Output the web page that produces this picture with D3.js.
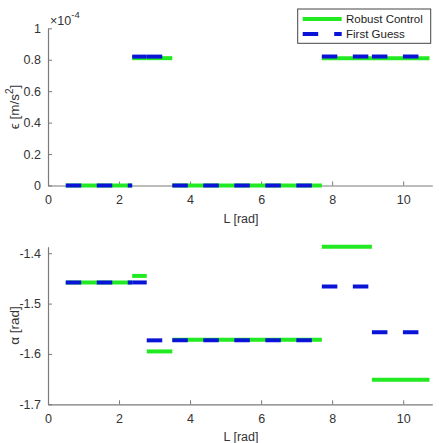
<!DOCTYPE html>
<html>
<head>
<meta charset="utf-8">
<script src="https://cdn.jsdelivr.net/npm/d3@7"></script>
<style>
  body { margin: 0; background: #fff; }
  svg { display: block; font-family: "Liberation Sans", Arial, sans-serif; }
</style>
</head>
<body>
<div id="container"></div>
<script>
// intervalos em L [rad]
var segInicio = [0.5, 2.37, 2.78, 3.5, 7.71, 9.12];
var segFim    = [2.37, 2.78, 3.5, 7.71, 9.12, 10.74];

// epsilon (x 1e-4)
var epsRobusto   = [0, 0.81, 0.81, 0, 0.81, 0.81];
var epsPrimeiro  = [0, 0.82, 0.82, 0, 0.82, 0.82];

// alpha [rad]
var alfaRobusto  = [-1.458, -1.445, -1.595, -1.572, -1.387, -1.651];
var alfaPrimeiro = [-1.458, -1.458, -1.573, -1.573, -1.466, -1.557];

var xTicks = [0, 2, 4, 6, 8, 10];
var epsTicks = [0, 0.2, 0.4, 0.6, 0.8, 1];
var alfaTicks = [-1.7, -1.6, -1.5, -1.4];

var legendas = ["Robust Control", "First Guess"];

var w = 439, h = 443;
var verde = "#22ea22", azul = "#0a14d6";
var corEixo = "#7a7a7a", corTexto = "#333";

var svg = d3.select("#container").append("svg")
    .attr("width", w).attr("height", h);

var x = d3.scaleLinear().domain([0, 10.82]).range([48, 432.3]);

function desenharPainel(y, ticks, fmt, robusto, primeiro, rotulo) {
    var g = svg.append("g");
    var linha = d3.line().x(function(d){ return x(d[0]); }).y(function(d){ return y(d[1]); });

    // eixo x
    var ax = g.append("g").attr("transform", "translate(0," + y.range()[0] + ")")
        .call(d3.axisBottom(x).tickValues(xTicks).tickSizeInner(-4).tickSizeOuter(0).tickPadding(10));
    // eixo y
    var ay = g.append("g").attr("transform", "translate(" + x.range()[0] + ",0)")
        .call(d3.axisLeft(y).tickValues(ticks).tickFormat(fmt).tickSizeInner(-4).tickSizeOuter(0).tickPadding(7));

    [ax, ay].forEach(function(a){
        a.select(".domain").attr("stroke", corEixo).attr("stroke-width", 1.2);
        a.selectAll(".tick line").attr("stroke", corEixo);
        a.selectAll(".tick text").attr("fill", corTexto).style("font-size", "12.5px");
    });

    // linhas
    segInicio.forEach(function(s, i){
        g.append("path").attr("d", linha([[s, robusto[i]], [segFim[i], robusto[i]]]))
            .attr("stroke", verde).attr("stroke-width", 4).attr("fill", "none");
    });
    segInicio.forEach(function(s, i){
        g.append("path").attr("d", linha([[s, primeiro[i]], [segFim[i], primeiro[i]]]))
            .attr("stroke", azul).attr("stroke-width", 4).attr("fill", "none")
            .attr("stroke-dasharray", "15.5,15.5");
    });

    g.append("text").attr("x", 241).attr("y", y.range()[0] + 37)
        .attr("text-anchor", "middle").attr("fill", corTexto).style("font-size", "12.5px")
        .text("L [rad]");

    var cy = (y.range()[0] + y.range()[1]) / 2;
    var t = g.append("text").attr("transform", "translate(19," + cy + ") rotate(-90)")
        .attr("text-anchor", "middle").attr("fill", corTexto).style("font-size", "13.5px");
    rotulo(t);
    return g;
}

// painel de cima
var yEps = d3.scaleLinear().domain([0, 1]).range([185.5, 28.3]);
desenharPainel(yEps, epsTicks, function(d){ return d3.format("")(+d.toFixed(1)); },
    epsRobusto, epsPrimeiro, function(t){
        t.append("tspan").text("\u03f5 [m/s");
        t.append("tspan").attr("dy", -6).style("font-size", "10px").text("2");
        t.append("tspan").attr("dy", 6).text("]");
    });

var exp = svg.append("text").attr("x", 50).attr("y", 25).attr("fill", corTexto).style("font-size", "12.5px");
exp.append("tspan").text("\u00d710");
exp.append("tspan").attr("dy", -7).style("font-size", "9.5px").text("-4");

// painel de baixo
var yAlfa = d3.scaleLinear().domain([-1.7, -1.387]).range([404.3, 246.7]);
desenharPainel(yAlfa, alfaTicks, function(d){ return d.toFixed(1); },
    alfaRobusto, alfaPrimeiro, function(t){
        t.text("\u03b1  [rad]");
    });

// legenda
var leg = svg.append("g");
leg.append("rect").attr("x", 297.7).attr("y", 9).attr("width", 133).attr("height", 34.3)
    .attr("fill", "#fff").attr("stroke", "#444").attr("stroke-width", 1);
legendas.forEach(function(nome, i){
    var ly = 19 + i * 15;
    leg.append("line").attr("x1", 302.7).attr("x2", 341.7).attr("y1", ly).attr("y2", ly)
        .attr("stroke", i == 0 ? verde : azul).attr("stroke-width", 4)
        .attr("stroke-dasharray", i == 0 ? null : "15.5,16");
    leg.append("text").attr("x", 346).attr("y", ly + 4).attr("fill", "#222")
        .style("font-size", "11.5px").text(nome);
});
</script>
</body>
</html>
